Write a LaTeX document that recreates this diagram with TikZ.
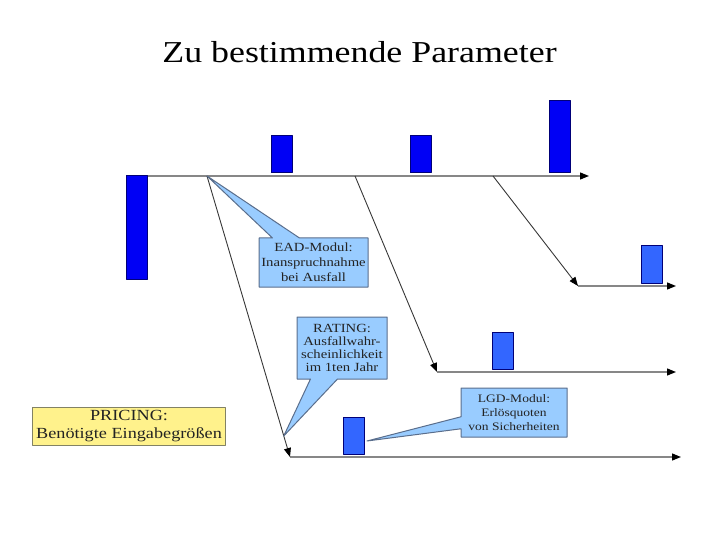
\documentclass[tikz,border=0pt]{standalone}
\usepackage{fontspec}
\setmainfont{Liberation Serif}[FakeStretch=1.18]
\definecolor{BarBlue}   {RGB}{0,0,245}
\definecolor{BarLight}  {RGB}{51,102,255}
\definecolor{BarEdge}   {RGB}{0,0,120}
\definecolor{CallBlue}  {RGB}{153,204,255}
\definecolor{CallEdge}  {RGB}{90,110,140}
\definecolor{PriceFill} {RGB}{255,242,140}
\definecolor{PriceEdge} {RGB}{130,130,100}
\definecolor{AxisGray}  {RGB}{135,135,135}
\definecolor{LineDark}  {RGB}{55,55,55}
\definecolor{TextDark}  {RGB}{35,35,35}
\usetikzlibrary{arrows.meta,positioning,calc,shapes.callouts}

\begin{document}
\begin{tikzpicture}[x=1bp,y=-1bp,line join=round,
    every node/.style={font=\fontsize{12.5}{15}\selectfont,text=TextDark},
    topbar/.style={draw=BarEdge,fill=BarBlue,line width=1bp,
                   minimum width=21bp,inner sep=0pt,outer sep=0pt},
    lowbar/.style={topbar,fill=BarLight},
    axisline/.style={AxisGray,line width=1.3bp,
                     -{Triangle[length=9bp,width=7bp,color=black]}},
    shiftline/.style={LineDark,line width=0.9bp,
                      -{Triangle[length=9bp,width=7bp,color=black]}},
    callbox/.style={rectangle callout,draw=CallEdge,fill=CallBlue,
                    line width=1bp,align=center,inner sep=2pt}]
  \useasboundingbox (0,0) rectangle (720,540);
  \node[font=\fontsize{30.5}{36}\selectfont,text=black,anchor=base]
    (title) at (359.5,63) {Zu bestimmende Parameter};

  \coordinate (t0) at (126,176);
  \coordinate (tend) at (589,176);
  \coordinate (t1) at (207,176);
  \coordinate (t2) at (355,176);
  \coordinate (t3) at (493,176);
  \coordinate (a3) at (578,286);
  \coordinate (a3end) at (676,286);
  \coordinate (a2) at (437,372);
  \coordinate (a2end) at (676,372);
  \coordinate (a1) at (290,457);
  \coordinate (a1end) at (681,457);

  \draw[axisline] (t0) -- (tend);
  \draw[axisline] (a3) -- (a3end);
  \draw[axisline] (a2) -- (a2end);
  \draw[axisline] (a1) -- (a1end);
  \draw[shiftline] (t1) -- (a1);
  \draw[shiftline] (t2) -- (a2);
  \draw[shiftline] (t3) -- (a3);

  \node[topbar,anchor=north west,minimum height=103bp] (b0) at (t0) {};
  \node[topbar,anchor=south west,minimum height=37bp] (b1) at (271,173) {};
  \node[topbar,anchor=south west,minimum height=37bp] (b2) at (410,173) {};
  \node[topbar,anchor=south west,minimum height=72bp] (b3) at (549,173) {};
  \node[lowbar,anchor=south west,minimum height=37bp] (b4) at (641,283) {};
  \node[lowbar,anchor=south west,minimum height=37bp] (b5) at (492,369) {};
  \node[lowbar,anchor=south west,minimum height=37bp] (b6) at (343,454) {};

  \coordinate (rtip) at ($(t1)!0.925!(a1)$);
  \coordinate (ltip) at ($(b6.south east)+(3,-13)$);

  \node[callbox,minimum width=109bp,minimum height=49bp,
        callout absolute pointer={(t1)},callout pointer width=27bp]
    (ead) at (313.5,262.5) {EAD-Modul:\\Inanspruchnahme\\bei Ausfall};
  \node[callbox,minimum width=90bp,minimum height=62bp,
        font=\fontsize{12.5}{13}\selectfont,
        callout absolute pointer={(rtip)},callout pointer width=27bp]
    (rating) at (342,348) {RATING:\\Ausfallwahr-\\scheinlichkeit\\im 1ten Jahr};
  \node[callbox,minimum width=106bp,minimum height=49bp,
        font=\fontsize{11.5}{14}\selectfont,
        callout absolute pointer={(ltip)},callout pointer width=12bp]
    (lgd) at (514,412.5) {LGD-Modul:\\Erlösquoten\\von Sicherheiten};

  \node[draw=PriceEdge,fill=PriceFill,line width=1bp,minimum width=188bp,
        minimum height=37bp,align=center,font=\fontsize{15.5}{18}\selectfont]
    (pricing) at (129,426.5) {PRICING:\\Benötigte Eingabegrößen};
\end{tikzpicture}
\end{document}
